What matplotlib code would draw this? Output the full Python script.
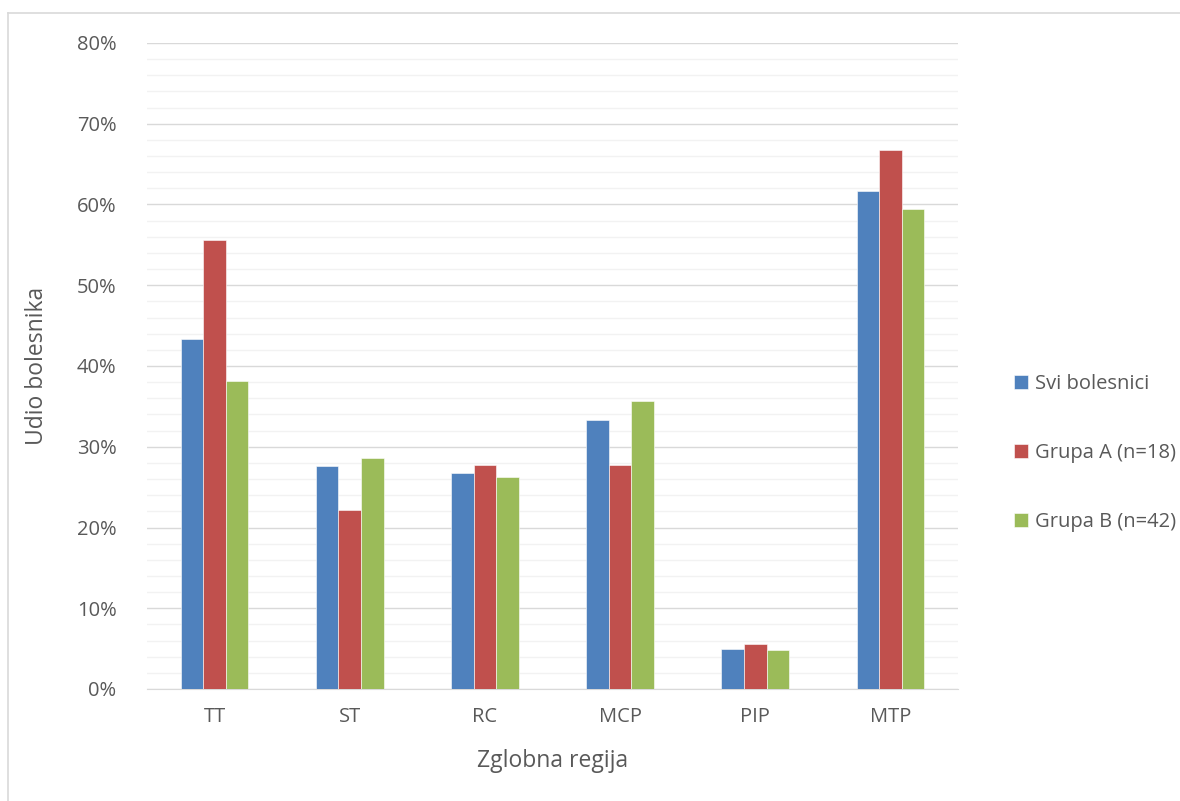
import matplotlib
matplotlib.use("Agg")
import matplotlib.pyplot as plt
import numpy as np
from matplotlib.lines import Line2D

categories = ["TT", "ST", "RC", "MCP", "PIP", "MTP"]
svi = [43.3, 27.6, 26.7, 33.3, 5.0, 61.7]
grupa_a = [55.6, 22.2, 27.8, 27.8, 5.6, 66.7]
grupa_b = [38.1, 28.6, 26.2, 35.7, 4.8, 59.5]
series_names = ["Svi bolesnici", "Grupa A (n=18)", "Grupa B (n=42)"]
colors = ["#4f81bd", "#c0504d", "#9bbb59"]
yticks = [0, 10, 20, 30, 40, 50, 60, 70, 80]

plt.rcParams['font.family'] = ['Open Sans', 'DejaVu Sans']
text_color = "#595959"

fig = plt.figure(figsize=(11.8, 8.01), dpi=100)
ax = fig.add_axes([147/1180, 1-689/801, (958-147)/1180, (689-43)/801])

x = np.arange(len(categories))
w = 0.1667
for i, (vals, c, name) in enumerate(zip([svi, grupa_a, grupa_b], colors, series_names)):
    ax.bar(x + (i-1)*w, vals, width=w, color=c, label=name, zorder=3,
           edgecolor="white", linewidth=0.4)

ax.set_xlim(-0.5, len(categories)-0.5)
ax.set_ylim(0, 80)
ax.set_yticks(yticks)
ax.set_yticklabels([f"{v}%" for v in yticks])
ax.set_yticks(np.arange(0, 81, 2), minor=True)
ax.grid(axis='y', which='minor', color="#f2f2f2", linewidth=1.0, zorder=0)
ax.grid(axis='y', which='major', color="#d9d9d9", linewidth=1.0, zorder=1)
ax.set_xticks(x)
ax.set_xticklabels(categories)
ax.tick_params(axis='both', which='both', length=0, labelsize=14.5, colors=text_color)
ax.tick_params(axis='y', pad=22)
ax.tick_params(axis='x', pad=13)
for s in ["top", "right", "left"]:
    ax.spines[s].set_visible(False)
ax.spines["bottom"].set_color("#d9d9d9")

ax.set_ylabel("Udio bolesnika", fontsize=16.5, color=text_color, labelpad=20)
ax.set_xlabel("Zglobna regija", fontsize=16.5, color=text_color, labelpad=16)

handles, labels = ax.get_legend_handles_labels()
leg = fig.legend(handles, labels, loc="center left", bbox_to_anchor=(996/1180, 1-453/801),
                 frameon=False, fontsize=14.5, labelspacing=2.45, handlelength=0.7,
                 handleheight=0.7, handletextpad=0.35, labelcolor=text_color)

# chart border (top and left visible)
fig.add_artist(Line2D([8/1180, 8/1180], [0, 1-13/801], color="#d9d9d9", linewidth=1.2))
fig.add_artist(Line2D([8/1180, 1], [1-13/801, 1-13/801], color="#d9d9d9", linewidth=1.2))

fig.savefig("out.png", dpi=100)
